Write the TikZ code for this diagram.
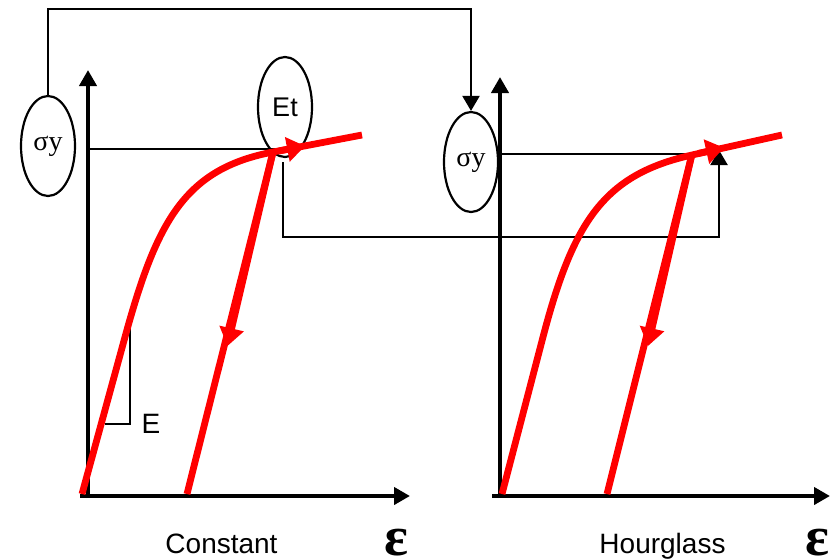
\documentclass[tikz,border=0pt]{standalone}
\usepackage{fontspec}
\setmainfont{Liberation Serif}
\setsansfont{Liberation Sans}
\usetikzlibrary{arrows.meta,shapes.geometric}
\begin{document}
\begin{tikzpicture}[x=1pt,y=-1pt,
  axis/.style={line width=4pt,-{Triangle[length=16pt,width=17pt]}},
  thinline/.style={line width=2.2pt},
  thinarrow/.style={line width=2.2pt,-{Triangle[length=15pt,width=17pt]}},
  redcurve/.style={line width=6.8pt,red},
  redtip/.style={line width=6.8pt,red,-{Triangle[length=18pt,width=24pt]}},
  oval/.style={ellipse,draw,line width=2.2pt,inner sep=0pt,minimum width=54pt,minimum height=100pt},
  sanslab/.style={font=\sffamily\fontsize{28}{30}\selectfont},
  epslab/.style={font=\bfseries\fontsize{56}{60}\selectfont},
]
\useasboundingbox (0,0) rectangle (836,560);
% ---- left plot axes
\coordinate (lyt) at (88,70);
\coordinate (lxt) at (410,496);
\draw[axis] (88,498) -- (lyt);
\draw[axis] (80,496) -- (lxt);
% ---- right plot axes
\coordinate (ryt) at (500,77);
\coordinate (rxt) at (830,496);
\draw[axis] (500,498) -- (ryt);
\draw[axis] (492,496) -- (rxt);
% ---- ellipses
\node[oval,font=\fontsize{28}{30}\selectfont] (sy1) at (48,146) {σy};
\node[oval,font=\sffamily\fontsize{27}{30}\selectfont] (et) at (285,107) {Et};
\node[oval,font=\fontsize{28}{30}\selectfont] (sy2) at (471,162) {σy};
% ---- yield lines
\coordinate (ly1) at (88,149);
\coordinate (ly2) at (280,149);
\draw[thinline] (ly1) -- (ly2);
\coordinate (ry1) at (500,154);
\coordinate (ry2) at (695,154);
\draw[thinline] (ry1) -- (ry2);
% ---- connectors
\coordinate (topc) at (260,9);
\draw[thinarrow] (sy1.north) |- (topc) -| (sy2.north);
\coordinate (etg) at (283,162);
\coordinate (corner) at (500,237);
\coordinate (tipr) at (719,150);
\draw[thinarrow] (etg) |- (corner) -| (tipr);
% ---- E triangle
\coordinate (e1) at (130,326);
\coordinate (e2) at (130,424);
\coordinate (e3) at (105,424);
\draw[thinline] (e1) -- (e2) -- (e3);
\node[sanslab,anchor=base west] (elab) at (138,433) {E};
% ---- left red curves
\draw[redcurve,line join=round] (82,494) -- (125,337) .. controls (156.7,221.3) and (184.6,168.9) .. (273,152) -- (362,135);
\coordinate (lyp) at (273,152);
\coordinate (lu) at (187,494);
\draw[redcurve] (lyp) -- (lu);
\draw[redtip] (lyp) -- (227.5,346);
\draw[redtip] (279,151) -- (305,146);
% ---- right red curves
\draw[redcurve,line join=round] (502,494) -- (543,337) .. controls (573.4,221) and (604.2,174.5) .. (692,155) -- (782,135);
\coordinate (ryp) at (692,154);
\coordinate (ru) at (607,494);
\draw[redcurve] (ryp) -- (ru);
\draw[redtip] (ryp) -- (648,346);
\draw[redtip] (698,153.5) -- (724,147.7);
% ---- labels
\node[sanslab,anchor=base] (cl) at (221.5,553) {Constant};
\node[sanslab,anchor=base] (hl) at (662.5,553) {Hourglass};
\node[epslab,anchor=base] (eps1) at (396,555) {ε};
\node[epslab,anchor=base] (eps2) at (817,555) {ε};
\end{tikzpicture}
\end{document}
